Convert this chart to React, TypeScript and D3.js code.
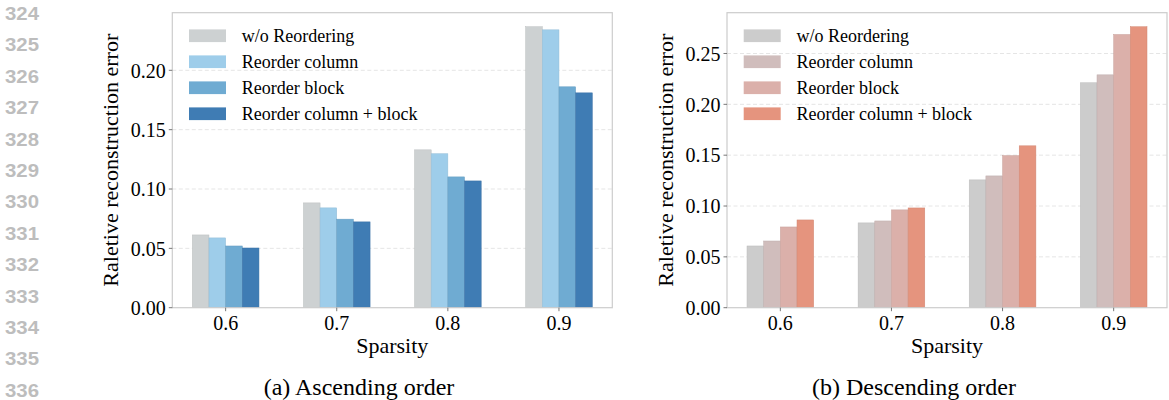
import React from "react";
import * as d3 from "d3";

// sparsity levels on the x axis
const sparsity = ["0.6", "0.7", "0.8", "0.9"];
const seriesNames = ["w/o Reordering", "Reorder column", "Reorder block", "Reorder column + block"];

// (a) ascending order
const ascNoReorder = [0.0613, 0.0883, 0.133, 0.2367];
const ascColumn = [0.0588, 0.0841, 0.1297, 0.2341];
const ascBlock = [0.052, 0.0746, 0.1102, 0.1861];
const ascBoth = [0.0503, 0.0723, 0.1068, 0.181];
const ascTicks = [0, 0.05, 0.1, 0.15, 0.2];
const ascColors = ["#cdd1d2", "#9ecdea", "#6fabd2", "#3f7cb4"];

// (b) descending order
const descNoReorder = [0.0607, 0.0834, 0.1257, 0.2212];
const descColumn = [0.0656, 0.0853, 0.1296, 0.229];
const descBlock = [0.0794, 0.0962, 0.1496, 0.2687];
const descBoth = [0.0863, 0.0981, 0.1592, 0.2763];
const descTicks = [0, 0.05, 0.1, 0.15, 0.2, 0.25];
const descColors = ["#cccccc", "#d0bdbc", "#dbb0aa", "#e5947e"];

const lineNumbers = d3.range(324, 337);

const SERIF = "Liberation Serif, DejaVu Serif, serif";

type PanelProps = {
  left: number;
  series: number[][];
  colors: string[];
  ticks: number[];
  caption: string;
  captionX: number;
};

const Panel = ({ left, series, colors, ticks, caption, captionX }: PanelProps) => {
  const top = 12.7;
  const bottom = 307.7;
  const width = 440;
  const barW = 0.15;

  const x = d3.scaleLinear().domain([-0.48, 3.48]).range([left, left + width]);
  const yMax = (d3.max(series.flat()) as number) * 1.05;
  const y = d3.scaleLinear().domain([0, yMax]).range([bottom, top]);
  const fmt = d3.format(".2f");
  const mid = left + width / 2;

  return (
    <g style={{ fontFamily: SERIF }} fill="#000">
      {/* grid */}
      {ticks.filter((t) => t > 0).map((t) => (
        <line key={"g" + t} x1={left} x2={left + width} y1={y(t)} y2={y(t)}
          stroke="#e2e2e2" strokeWidth={0.9} strokeDasharray="4 2.5" />
      ))}

      {/* bars */}
      {series.map((vals, s) => (
        <g key={"s" + s} fill={colors[s]}>
          {vals.map((v, i) => {
            const x0 = x(i - 0.3 + s * barW);
            const x1 = x(i - 0.3 + (s + 1) * barW);
            return (
              <rect key={i} x={x0} y={y(v)} width={x1 - x0} height={y(0) - y(v)}
                stroke={d3.color(colors[s])!.darker(0.25).formatHex()} strokeWidth={0.5} />
            );
          })}
        </g>
      ))}

      {/* frame */}
      <rect x={left} y={top} width={width} height={bottom - top} fill="none" stroke="#cccccc" strokeWidth={1.2} />

      {/* y axis */}
      {ticks.map((t) => (
        <g key={"y" + t}>
          <line x1={left - 3.5} x2={left} y1={y(t)} y2={y(t)} stroke="#555" strokeWidth={0.8} />
          <text x={left - 6.5} y={y(t)} dy="0.36em" textAnchor="end" fontSize={20}>
            {fmt(t)}
          </text>
        </g>
      ))}

      {/* x axis */}
      {sparsity.map((c, i) => (
        <g key={"x" + c}>
          <line x1={x(i)} x2={x(i)} y1={bottom} y2={bottom + 3.5} stroke="#555" strokeWidth={0.8} />
          <text x={x(i)} y={330} textAnchor="middle" fontSize={20}>{c}</text>
        </g>
      ))}

      <text x={mid} y={353} textAnchor="middle" fontSize={22}>Sparsity</text>
      <text transform={`translate(${left - 54},${(top + bottom) / 2}) rotate(-90)`} textAnchor="middle"
        fontSize={22}>Raletive reconstruction error</text>

      {/* legend */}
      {seriesNames.map((name, s) => {
        const cy = 35.7 + s * 26;
        return (
          <g key={"l" + s}>
            <rect x={left + 16.7} y={cy - 6.3} width={37} height={12.7} fill={colors[s]} />
            <text x={left + 69.5} y={cy + 6.3} fontSize={18}>{name}</text>
          </g>
        );
      })}

      <text x={captionX} y={395} textAnchor="middle" fontSize={24}>{caption}</text>
    </g>
  );
};

export default function App() {
  return (
    <svg width={1169} height={400} style={{ position: "absolute", left: 0, top: 0, background: "#fff" }}>
      {lineNumbers.map((n, i) => (
        <text key={n} x={5} y={13.3 + i * 31.4 + 6.6} fontSize={18.5} fontWeight="bold"
          textLength={34} lengthAdjust="spacingAndGlyphs"
          style={{ fontFamily: "Liberation Sans, Arial, sans-serif" }} fill="#bdbdbd">{n}</text>
      ))}
      <Panel left={172.3} series={[ascNoReorder, ascColumn, ascBlock, ascBoth]} colors={ascColors}
        ticks={ascTicks} caption="(a) Ascending order" captionX={359} />
      <Panel left={727} series={[descNoReorder, descColumn, descBlock, descBoth]} colors={descColors}
        ticks={descTicks} caption="(b) Descending order" captionX={914} />
    </svg>
  );
}
